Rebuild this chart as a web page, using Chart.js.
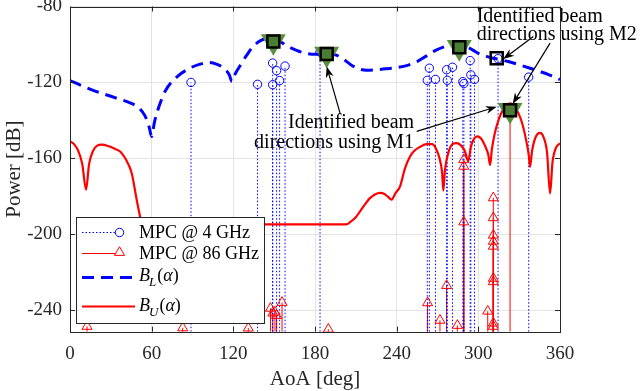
<!DOCTYPE html>
<html>
<head>
<meta charset="utf-8">
<script src="https://cdn.jsdelivr.net/npm/chart.js@4.4.0/dist/chart.umd.min.js"></script>
<style>
  body { margin: 0; background: #fff; }
</style>
</head>
<body>
<canvas id="chart" width="640" height="391"></canvas>
<script>
// axis ticks
const xTicks = [0, 60, 120, 180, 240, 300, 360];
const yTicks = [-240, -200, -160, -120, -80];
const yFloor = -251.3;

// B_L(alpha)
const blAngle = [0, 8, 18, 33, 45, 50, 55, 58, 60, 62, 65, 70, 79, 88, 95, 102, 108, 113, 117, 119,
  121, 126, 130, 134, 140, 146, 152, 160, 166, 174, 181, 188.6, 195, 200, 206, 212, 218, 225, 232, 240,
  248, 255, 262, 269, 276, 281, 286, 291, 296, 301, 306, 311, 316, 322, 330, 338, 345, 352, 357.6, 360];
const blPower = [-119, -121.5, -124.4, -128, -131, -133, -137.5, -143, -148.5, -141, -133.5, -124.5, -116.8, -112.5, -110.5, -109.5, -110.5, -112.5, -116, -119.5,
  -116, -110, -105.5, -101.5, -98, -96.8, -97.5, -101, -103, -104.8, -105.2, -104.8, -105.5, -107.3, -110.5, -112.8, -113.6, -113.3, -112.8, -112.2,
  -111, -109, -106, -103, -101, -100, -100, -101, -103, -105, -106.3, -107.3, -108, -109, -110.7, -112.5, -114.2, -116, -117.7, -118.5];

// B_U(alpha)
const buAngle = [0, 3, 6, 9, 11.8, 14, 17, 20, 23.3, 28, 33, 37, 41, 45.3, 49, 51, 53, 120, 203,
  206, 210, 213, 217, 220, 224, 228, 231, 233.5, 236.3, 239, 242.5, 246, 249.8, 253, 257, 262, 266, 269, 271.5, 273.3,
  274.3, 275.5, 278, 281, 284, 287, 290, 292.6, 294.5, 297, 299, 302, 305, 307.3, 308.6,
  310, 312, 315, 318, 321, 323.3, 326, 329, 332, 335, 337, 338, 339.5, 342, 345.3, 348, 350.5, 352.7, 354.5, 357, 360];
const buPower = [-151, -152.5, -156, -163, -176.5, -163, -156, -153.3, -152.8, -153.5, -155, -156.5, -160.5, -167.7, -181.8, -189, -194.8, -194.8, -194.8,
  -193.5, -191, -188, -184, -181.2, -179, -178.2, -178.8, -180.2, -181.7, -178.5, -174.7, -165.5, -159, -156, -154, -152.5, -152.5, -155, -160, -167,
  -177, -166, -157, -152.5, -152, -153, -156, -161.5, -154, -149.5, -148.4, -149.5, -153.5, -158, -163.5,
  -155, -147, -139.5, -134.5, -131.8, -131, -132, -135.5, -141, -150, -158, -164.5, -156, -149, -146.6, -149, -157, -178.5, -162, -154.5, -152];

// MPC @ 4 GHz
const mpc4Angle = [88.9, 137.8, 148.9, 148.9, 151.8, 154, 158, 183.7, 262.5, 264, 268.5, 276.7, 277.2, 281,
  288.6, 289.4, 294, 294.5, 297.2, 314.5, 337];
const mpc4Power = [-120, -121, -109.8, -121.2, -113.8, -119, -111.4, -104, -118.9, -112.5, -118.4, -113.3, -118.9, -112,
  -119.6, -120.6, -108.5, -116, -118.4, -107.5, -117.2];

// MPC @ 86 GHz
const mpc86Angle = [12.5, 82.8, 131, 147.3, 149, 150.6, 151.8, 155.8, 189.8, 262.7, 271.8, 276.7, 284.6,
  289.3, 289.3, 289.3, 306.9, 311, 311, 311, 311, 311, 311, 311, 311, 311, 323.3];
const mpc86Power = [-248.5, -249.3, -249.4, -239, -241.5, -241, -242.8, -235.9, -250, -236.1, -245.3, -227, -248,
  -160.7, -164.2, -193.5, -240.5, -180.8, -191.3, -200.5, -203.7, -206.3, -223.2, -225, -246.8, -248.5, -134.6];

// identified beam directions
const m1Angle = [149.4, 188.6, 286, 323.3];
const m1Power = [-98.4, -105, -101.5, -134.6];
const m2Angle = [149.4, 188.6, 286, 313.5, 323.3];
const m2Power = [-98.4, -105, -101.5, -107.2, -134.6];
const m2Fill = ['#4a7c33', '#4a7c33', '#4a7c33', 'rgba(0,0,0,0)', '#4a7c33'];

const pts = (xs, ys) => xs.map((x, i) => ({ x: x, y: ys[i] }));
function stems(xs, ys) {
    const out = [];
    xs.forEach((x, i) => {
        out.push({ x: x, y: yFloor }, { x: x, y: ys[i] }, { x: x, y: null });
    });
    return out;
}

const serif = '"Liberation Serif", "Times New Roman", serif';
Chart.defaults.font.family = serif;

// MATLAB-style box with inward ticks
const boxPlugin = {
    id: "box",
    afterDatasetsDraw(chart) {
        const { ctx, chartArea: a, scales: { x, y } } = chart;
        ctx.save();
        ctx.strokeStyle = "#262626";
        ctx.lineWidth = 1;
        ctx.beginPath();
        xTicks.forEach(v => {
            const px = Math.round(x.getPixelForValue(v)) + 0.5;
            ctx.moveTo(px, a.bottom); ctx.lineTo(px, a.bottom - 5);
            ctx.moveTo(px, a.top); ctx.lineTo(px, a.top + 5);
        });
        yTicks.forEach(v => {
            const py = Math.round(y.getPixelForValue(v)) + 0.5;
            ctx.moveTo(a.left, py); ctx.lineTo(a.left + 5, py);
            ctx.moveTo(a.right, py); ctx.lineTo(a.right - 5, py);
        });
        ctx.stroke();
        ctx.strokeRect(Math.round(a.left) + 0.5, Math.round(a.top) + 0.5, Math.round(a.width), Math.round(a.height));
        ctx.restore();
    }
};

function triangle(ctx, cx, cy, r, down) {
    const s = down ? -1 : 1;
    ctx.beginPath();
    ctx.moveTo(cx, cy - s * r);
    ctx.lineTo(cx + r * 0.866, cy + s * r / 2);
    ctx.lineTo(cx - r * 0.866, cy + s * r / 2);
    ctx.closePath();
}

function bLabel(ctx, x, y, sub) {
    ctx.font = "italic 18px " + serif;
    ctx.fillText("B", x, y);
    let cx = x + ctx.measureText("B").width;
    ctx.font = "italic 13px " + serif;
    ctx.fillText(sub, cx - 1, y + 7);
    cx += ctx.measureText(sub).width;
    ctx.font = "18px " + serif;
    ctx.fillText("(", cx, y);
    cx += ctx.measureText("(").width;
    ctx.font = "italic 18px " + serif;
    ctx.fillText("\u03b1", cx, y);
    cx += ctx.measureText("\u03b1").width;
    ctx.font = "18px " + serif;
    ctx.fillText(")", cx, y);
}

// legend box in the lower left corner
const legendPlugin = {
    id: "boxLegend",
    afterDraw(chart) {
        const ctx = chart.ctx;
        ctx.save();
        ctx.fillStyle = "#fff";
        ctx.fillRect(76, 217.5, 188, 106);
        ctx.strokeStyle = "#262626";
        ctx.lineWidth = 1;
        ctx.strokeRect(76.5, 217.5, 188, 106);

        // MPC @ 4 GHz
        ctx.strokeStyle = "#0000ff";
        ctx.setLineDash([1.5, 2]);
        ctx.beginPath(); ctx.moveTo(82, 232.5); ctx.lineTo(116, 232.5); ctx.stroke();
        ctx.setLineDash([]);
        ctx.beginPath(); ctx.arc(119.5, 232.5, 4.2, 0, Math.PI * 2); ctx.stroke();

        // MPC @ 86 GHz
        ctx.strokeStyle = "#ff0000";
        ctx.beginPath(); ctx.moveTo(82, 253.5); ctx.lineTo(116, 253.5); ctx.stroke();
        triangle(ctx, 119.5, 252.5, 5.8, false); ctx.stroke();

        // B_L
        ctx.strokeStyle = "#0000ff";
        ctx.lineWidth = 3;
        ctx.setLineDash([12, 7]);
        ctx.beginPath(); ctx.moveTo(82, 277.5); ctx.lineTo(135, 277.5); ctx.stroke();
        ctx.setLineDash([]);

        // B_U
        ctx.strokeStyle = "#ff0000";
        ctx.lineWidth = 2.2;
        ctx.beginPath(); ctx.moveTo(82, 306.5); ctx.lineTo(135, 306.5); ctx.stroke();

        ctx.fillStyle = "#000";
        ctx.textBaseline = "middle";
        ctx.font = "18px " + serif;
        ctx.fillText("MPC @ 4 GHz", 139, 233);
        ctx.fillText("MPC @ 86 GHz", 139, 254);
        bLabel(ctx, 139, 276, "L");
        bLabel(ctx, 139, 306, "U");
        ctx.restore();
    }
};

function arrow(ctx, x0, y0, x1, y1) {
    const ang = Math.atan2(y1 - y0, x1 - x0);
    const len = 11, half = 4;
    const c = Math.cos(ang), s = Math.sin(ang);
    ctx.beginPath();
    ctx.moveTo(x0, y0);
    ctx.lineTo(x1 - c * len * 0.7, y1 - s * len * 0.7);
    ctx.stroke();
    ctx.beginPath();
    ctx.moveTo(x1, y1);
    ctx.lineTo(x1 - len * c + half * s, y1 - len * s - half * c);
    ctx.lineTo(x1 - len * 0.7 * c, y1 - len * 0.7 * s);
    ctx.lineTo(x1 - len * c - half * s, y1 - len * s + half * c);
    ctx.closePath();
    ctx.fill();
}

// text notes and arrows, placed in data units
const notePlugin = {
    id: "notes",
    afterDraw(chart) {
        const { ctx, scales: { x, y } } = chart;
        const X = v => x.getPixelForValue(v), Y = v => y.getPixelForValue(v);
        ctx.save();
        ctx.fillStyle = "#000";
        ctx.strokeStyle = "#000";
        ctx.lineWidth = 1.2;
        ctx.font = "20px " + serif;
        ctx.textBaseline = "middle";

        ctx.textAlign = "right";
        ctx.fillText("Identified beam", X(252.8), Y(-141.3));
        ctx.fillText("directions using M1", X(252.8), Y(-151.8));
        ctx.textAlign = "left";
        ctx.fillText("Identified beam", X(298.8), Y(-85.2));
        ctx.fillText("directions using M2", X(298.8), Y(-94.9));

        arrow(ctx, X(198.4), Y(-136.2), X(188.6), Y(-111.6));
        arrow(ctx, X(254.7), Y(-145.8), X(313.5), Y(-132.8));
        arrow(ctx, X(340.4), Y(-95.8), X(318.3), Y(-107.7));
        arrow(ctx, X(352.7), Y(-99.3), X(325.2), Y(-131.3));
        ctx.restore();
    }
};

new Chart(document.getElementById("chart"), {
    type: "scatter",
    data: {
        datasets: [
            {
                data: pts(m2Angle, m2Power), order: 0, clip: false,
                pointStyle: "rect", pointRadius: 8.5, pointBorderWidth: 2.5,
                pointBorderColor: "#000", pointBackgroundColor: m2Fill
            },
            {
                data: pts(m1Angle, m1Power), order: 1, clip: false,
                pointStyle: "triangle", rotation: 180, pointRadius: 14.4, pointBorderWidth: 0,
                pointBackgroundColor: "#5b8f3e"
            },
            {
                data: pts(blAngle, blPower), order: 2, showLine: true, pointRadius: 0,
                borderColor: "#0000ff", borderWidth: 3, borderDash: [12, 7],
                cubicInterpolationMode: "monotone"
            },
            {
                data: pts(buAngle, buPower), order: 3, showLine: true, pointRadius: 0,
                borderColor: "#ff0000", borderWidth: 2.2,
                cubicInterpolationMode: "monotone"
            },
            {
                data: pts(mpc4Angle, mpc4Power), order: 4, clip: false,
                pointStyle: "circle", pointRadius: 4.2, pointBorderWidth: 1,
                pointBorderColor: "#0000ff", pointBackgroundColor: "rgba(0,0,0,0)"
            },
            {
                data: pts(mpc86Angle, mpc86Power), order: 5, clip: false,
                pointStyle: "triangle", pointRadius: 5.8, pointBorderWidth: 1,
                pointBorderColor: "#ff0000", pointBackgroundColor: "rgba(0,0,0,0)"
            },
            {
                data: stems(mpc4Angle, mpc4Power), order: 6, showLine: true, spanGaps: false, pointRadius: 0,
                borderColor: "#0000ff", borderWidth: 1, borderDash: [1.5, 2]
            },
            {
                data: stems(mpc86Angle, mpc86Power), order: 7, showLine: true, spanGaps: false, pointRadius: 0,
                borderColor: "#ff0000", borderWidth: 1
            }
        ]
    },
    options: {
        responsive: false,
        animation: false,
        events: [],
        layout: { autoPadding: false, padding: { top: 6.5, right: 80, left: 0, bottom: 0 } },
        plugins: { legend: { display: false }, tooltip: { enabled: false } },
        scales: {
            x: {
                type: "linear", min: 0, max: 360,
                afterBuildTicks: s => { s.ticks = xTicks.map(v => ({ value: v })); },
                afterFit: s => { s.height = 59.3; s.paddingLeft = 0; s.paddingRight = 0; },
                grid: { color: "#e3e3e3", drawTicks: false },
                border: { display: false },
                ticks: { color: "#262626", font: { size: 19 }, padding: 11, maxRotation: 0, autoSkip: false },
                title: { display: true, text: "AoA [deg]", color: "#262626", font: { size: 21, lineHeight: 1.05 }, padding: { top: 0, bottom: 0 } }
            },
            y: {
                type: "linear", min: yFloor, max: -80,
                afterBuildTicks: s => { s.ticks = yTicks.map(v => ({ value: v })); },
                afterFit: s => { s.width = 70; s.paddingTop = 0; s.paddingBottom = 0; },
                grid: { color: "#e3e3e3", drawTicks: false },
                border: { display: false },
                ticks: { color: "#262626", font: { size: 19 }, padding: 8, autoSkip: false },
                title: { display: true, text: "Power [dB]", color: "#262626", font: { size: 21 }, padding: { top: 2, bottom: 0 } }
            }
        }
    },
    plugins: [boxPlugin, legendPlugin, notePlugin]
});
</script>
</body>
</html>
